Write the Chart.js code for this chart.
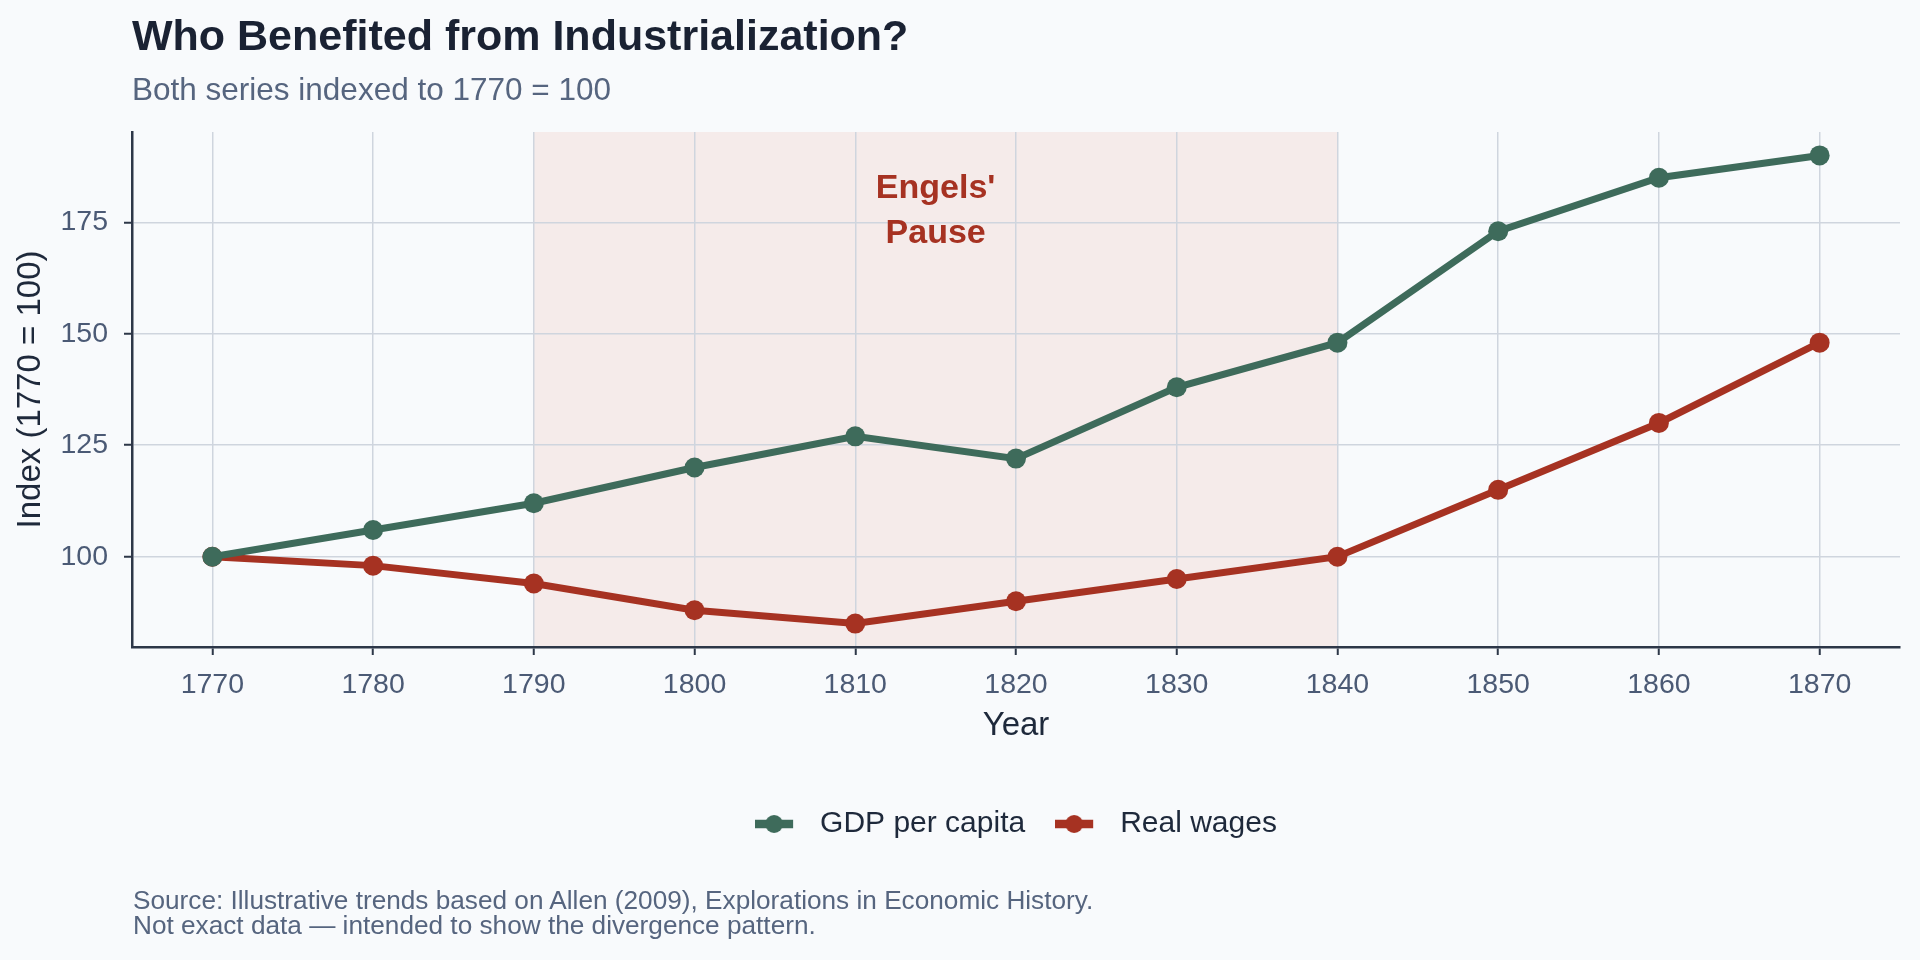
<!DOCTYPE html>
<html>
<head>
<meta charset="utf-8">
<title>Who Benefited from Industrialization?</title>
<script src="https://cdn.jsdelivr.net/npm/chart.js@4"></script>
<style>
  html, body { margin: 0; padding: 0; background: #f8fafc; }
  body { width: 1920px; height: 960px; position: relative; overflow: hidden;
         font-family: "Liberation Sans", Arial, Helvetica, sans-serif; }
  #wrap { position: absolute; left: 0; top: 0; width: 1920px; height: 960px; }
  .title { position: absolute; left: 132px; top: 14px; font-size: 43px; line-height: 1;
           font-weight: bold; color: #1a2233; white-space: nowrap; }
  .subtitle { position: absolute; left: 132px; top: 74px; font-size: 31.5px; line-height: 1;
              color: #56657f; white-space: nowrap; }
  .source { position: absolute; left: 133px; top: 888px; font-size: 26.2px; line-height: 25px;
            color: #56657f; white-space: nowrap; }
</style>
</head>
<body>
<div id="wrap"><canvas id="chart"></canvas></div>
<div class="title">Who Benefited from Industrialization?</div>
<div class="subtitle">Both series indexed to 1770 = 100</div>
<div class="source">Source: Illustrative trends based on Allen (2009), Explorations in Economic History.<br>Not exact data — intended to show the divergence pattern.</div>

<script>
// ---- DATA ----
const years = [1770, 1780, 1790, 1800, 1810, 1820, 1830, 1840, 1850, 1860, 1870];
const gdpPerCapita = [100, 106, 112, 120, 127, 122, 138, 148, 173, 185, 190];
const realWages = [100, 98, 94, 88, 85, 90, 95, 100, 115, 130, 148];
const yTicks = [100, 125, 150, 175];

// Shaded period + its label
const pauseStart = 1790;
const pauseEnd = 1840;
const pauseLabelYear = 1815;
const pauseLabelValue = 177.4;
const pauseLabelLines = ["Engels'", "Pause"];

// Colors
const colors = {
  gdp: '#3e6b5b',
  wages: '#a63222',
  grid: '#cfd5de',
  axis: '#2d3748',
  tick: '#4b5a75',
  text: '#1e293b',
  shade: '#f5ebea'
};

const FONT = '"Liberation Sans", Arial, Helvetica, sans-serif';

// ---- HELPERS ----
// Legend marker: short thick line with a dot in the middle (blank space on the right = gap before text)
function legendMarker(color) {
  const c = document.createElement('canvas');
  c.width = 50;
  c.height = 20;
  const g = c.getContext('2d');
  g.strokeStyle = color;
  g.lineWidth = 8.5;
  g.beginPath();
  g.moveTo(0, 10);
  g.lineTo(38, 10);
  g.stroke();
  g.fillStyle = color;
  g.beginPath();
  g.arc(19, 10, 9, 0, Math.PI * 2);
  g.fill();
  return c;
}

// Shaded "Engels' Pause" band, drawn before the grid so gridlines sit on top
const pauseBand = {
  id: 'pauseBand',
  beforeDraw(chart) {
    const { ctx, chartArea, scales } = chart;
    const x0 = scales.x.getPixelForValue(pauseStart);
    const x1 = scales.x.getPixelForValue(pauseEnd);
    ctx.save();
    ctx.fillStyle = colors.shade;
    ctx.fillRect(x0, chartArea.top, x1 - x0, chartArea.bottom - chartArea.top);
    ctx.restore();
  },
  afterDatasetsDraw(chart) {
    const { ctx, scales } = chart;
    const x = scales.x.getPixelForValue(pauseLabelYear);
    const y = scales.y.getPixelForValue(pauseLabelValue);
    const lineH = 45;
    ctx.save();
    ctx.font = 'bold 34px ' + FONT;
    ctx.fillStyle = colors.wages;
    ctx.textAlign = 'center';
    ctx.textBaseline = 'middle';
    pauseLabelLines.forEach((t, i) => {
      ctx.fillText(t, x, y + (i - (pauseLabelLines.length - 1) / 2) * lineH);
    });
    ctx.restore();
  }
};

// Center the legend under the plot area instead of the whole canvas
const centerLegend = {
  id: 'centerLegend',
  afterLayout(chart) {
    const lg = chart.legend;
    if (!lg) return;
    const shift = (chart.chartArea.left + chart.chartArea.right) / 2 - (lg.left + lg.right) / 2;
    lg.left += shift;
    lg.right += shift;
  }
};

// ---- CHART ----
const ctx = document.getElementById('chart').getContext('2d');

new Chart(ctx, {
  type: 'line',
  data: {
    datasets: [
      {
        label: 'GDP per capita',
        data: years.map((y, i) => ({ x: y, y: gdpPerCapita[i] })),
        borderColor: colors.gdp,
        backgroundColor: colors.gdp,
        borderWidth: 7,
        pointRadius: 10,
        pointHoverRadius: 10,
        pointBorderWidth: 0,
        tension: 0
      },
      {
        label: 'Real wages',
        data: years.map((y, i) => ({ x: y, y: realWages[i] })),
        borderColor: colors.wages,
        backgroundColor: colors.wages,
        borderWidth: 7,
        pointRadius: 10,
        pointHoverRadius: 10,
        pointBorderWidth: 0,
        tension: 0
      }
    ]
  },
  options: {
    responsive: true,
    maintainAspectRatio: false,
    animation: false,
    layout: { padding: { left: 0, top: 132, right: 20, bottom: 111 } },
    plugins: {
      title: { display: false },
      tooltip: { enabled: false },
      legend: {
        position: 'bottom',
        labels: {
          usePointStyle: true,
          pointStyleWidth: 50,
          boxHeight: 20,
          padding: 30,
          color: colors.text,
          font: { family: FONT, size: 30 },
          generateLabels: (chart) =>
            chart.data.datasets.map((ds, i) => ({
              text: ds.label,
              pointStyle: legendMarker(ds.borderColor),
              fillStyle: ds.borderColor,
              strokeStyle: ds.borderColor,
              lineWidth: 0,
              hidden: false,
              datasetIndex: i,
              fontColor: colors.text
            }))
        }
      }
    },
    scales: {
      x: {
        type: 'linear',
        min: 1765,
        max: 1875,
        afterBuildTicks: (scale) => { scale.ticks = years.map((v) => ({ value: v })); },
        afterFit: (scale) => { scale.height = 132; },
        grid: {
          color: colors.grid,
          lineWidth: 1.5,
          tickColor: colors.axis,
          tickWidth: 2,
          tickLength: 8
        },
        border: { color: colors.axis, width: 2.5 },
        ticks: {
          color: colors.tick,
          padding: 13,
          maxRotation: 0,
          font: { family: FONT, size: 28.5 },
          callback: (v) => String(v)
        },
        title: {
          display: true,
          text: 'Year',
          color: colors.text,
          padding: { top: 0, bottom: 33 },
          font: { family: FONT, size: 33 }
        }
      },
      y: {
        min: 79.75,
        max: 195.25,
        afterBuildTicks: (scale) => { scale.ticks = yTicks.map((v) => ({ value: v })); },
        afterFit: (scale) => { scale.width = 132; },
        grid: {
          color: colors.grid,
          lineWidth: 1.5,
          tickColor: colors.axis,
          tickWidth: 2,
          tickLength: 8
        },
        border: { color: colors.axis, width: 2.5 },
        ticks: {
          color: colors.tick,
          padding: 16,
          font: { family: FONT, size: 28.5 },
          callback: (v) => String(v)
        },
        title: {
          display: true,
          text: 'Index (1770 = 100)',
          color: colors.text,
          padding: { top: 11, bottom: 0 },
          font: { family: FONT, size: 33 }
        }
      }
    }
  },
  plugins: [pauseBand, centerLegend]
});
</script>
</body>
</html>
